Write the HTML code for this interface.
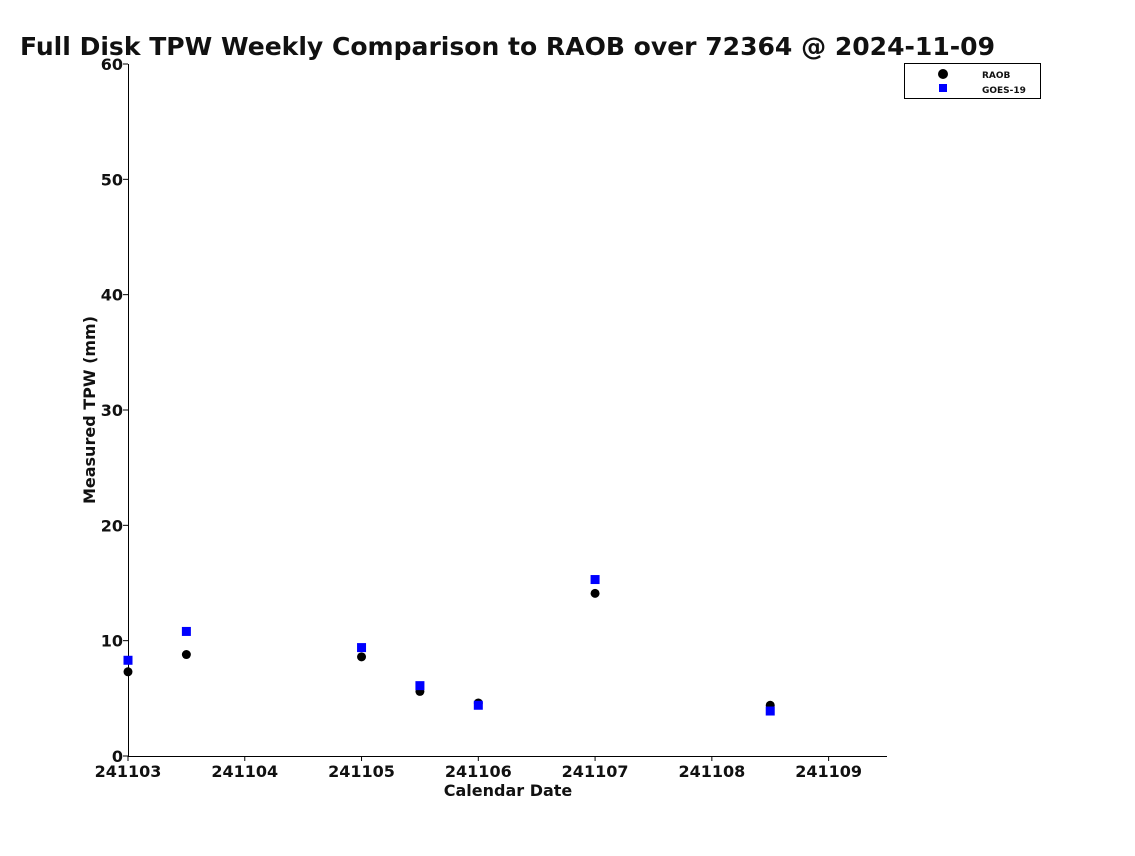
<!DOCTYPE html>
<html><head><meta charset="utf-8"><style>
body{margin:0;background:#fff;}
svg text{font-family:"DejaVu Sans","Liberation Sans",sans-serif;font-weight:bold;fill:#111;}
</style></head><body>
<svg id="chart" width="1135" height="851">
<text x="20" y="55" font-size="25" textLength="975" lengthAdjust="spacingAndGlyphs">Full Disk TPW Weekly Comparison to RAOB over 72364 @ 2024-11-09</text>
<g id="axes"></g>
<g id="marks"></g>
<text x="508" y="796" font-size="16" text-anchor="middle">Calendar Date</text>
<text transform="translate(95,410) rotate(-90)" font-size="16" text-anchor="middle">Measured TPW (mm)</text>
<g>
<rect x="904.5" y="63.5" width="136" height="35" fill="#fff" stroke="#000"/>
<circle cx="943" cy="74" r="5" fill="#000"/>
<text x="982" y="78" font-size="9">RAOB</text>
<rect x="939" y="84" width="8" height="8" fill="#0000ff"/>
<text x="982" y="93" font-size="9">GOES-19</text>
</g>
</svg>
<script>
const xTickLabels=["241103","241104","241105","241106","241107","241108","241109"];
const yTickLabels=[0,10,20,30,40,50,60];
const dayOffsets=[0,0.5,2,2.5,3,4,5.5];
const raobValues=[7.3,8.8,8.6,5.6,4.6,14.1,4.4];
const goesValues=[8.3,10.8,9.4,6.1,4.4,15.3,3.9];
const NS="http://www.w3.org/2000/svg";
const x0=128,x1=887,y0=756,y1=64;
const xs=d=>x0+d*(x1-x0)/6.5;
const ys=v=>y0-v*(y0-y1)/60;
const axes=document.getElementById('axes'),marks=document.getElementById('marks');
function mk(tag,attrs,parent){const e=document.createElementNS(NS,tag);for(const k in attrs)e.setAttribute(k,attrs[k]);parent.appendChild(e);return e;}
let e=mk('line',{x1:x0,y1:y0+0.5,x2:x1,y2:y0+0.5,stroke:'#000'},axes);


e=mk('line',{x1:x0+0.5,y1:y1,x2:x0+0.5,y2:y0,stroke:'#000'},axes);


xTickLabels.forEach((l,i)=>{const x=xs(i);
 const t=mk('line',{x1:x,y1:y0,x2:x,y2:y0+5,stroke:'#000'},axes);
 
 
 const tx=mk('text',{x:x,y:y0+21,'font-size':16,'text-anchor':'middle'},axes);tx.textContent=l;
 
 });
yTickLabels.forEach(v=>{const y=ys(v);
 const t=mk('line',{x1:x0-5,y1:y,x2:x0,y2:y,stroke:'#000'},axes);
 
 
 const tx=mk('text',{x:x0-5,y:y+6,'font-size':16,'text-anchor':'end'},axes);tx.textContent=v;
 
 });
dayOffsets.forEach((d,i)=>{
 const c=mk('circle',{cx:xs(d),cy:ys(raobValues[i]),r:4.5,fill:'#000'},marks);
 
 
 const r=mk('rect',{x:xs(d)-4.5,y:ys(goesValues[i])-4.5,width:9,height:9,fill:'#0000ff'},marks);
 
 
});
</script>
</body></html>
